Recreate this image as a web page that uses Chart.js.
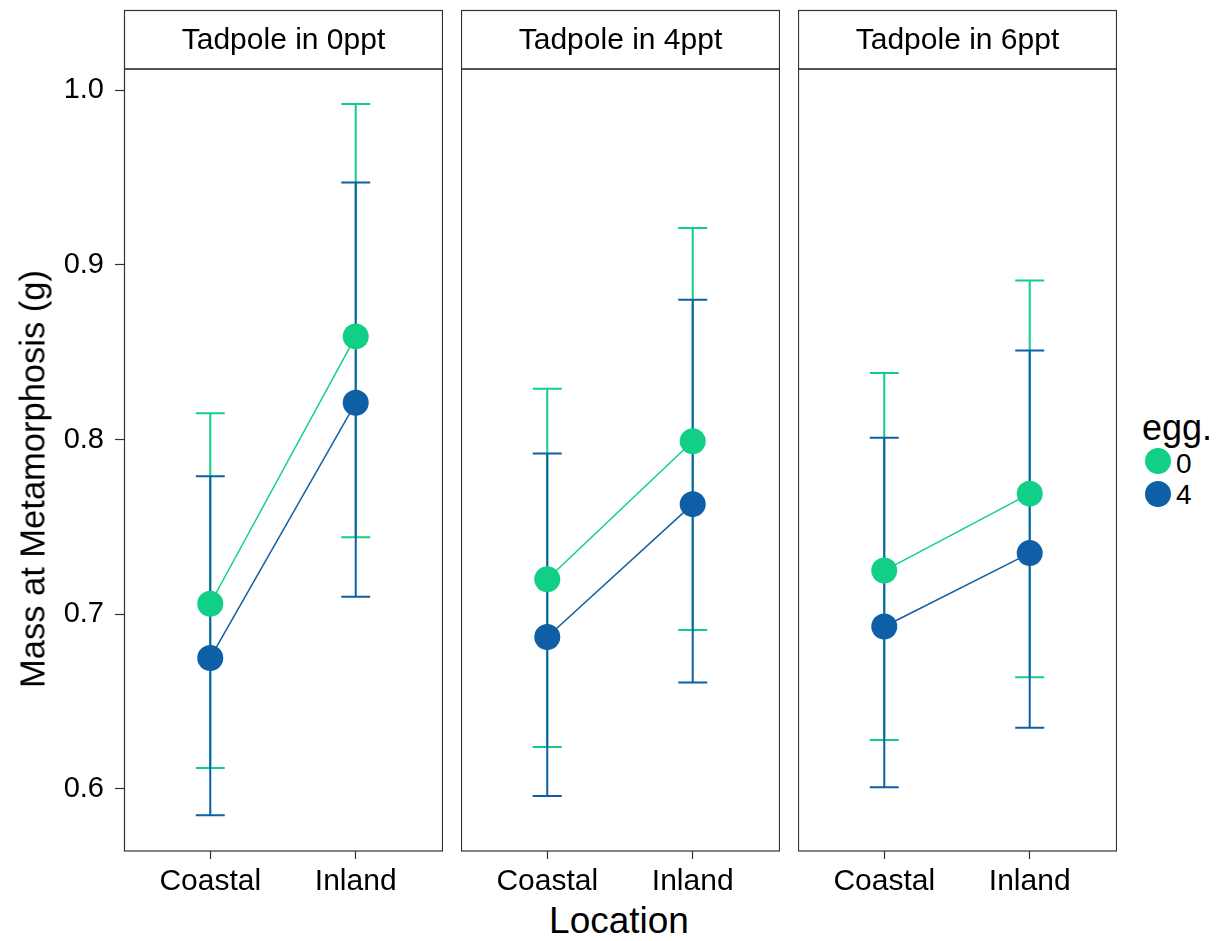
<!DOCTYPE html>
<html>
<head>
<meta charset="utf-8">
<script src="https://cdn.jsdelivr.net/npm/chart.js@4.4.1/dist/chart.umd.min.js"></script>
<style>
  body { margin: 0; background: #fff; font-family: "Liberation Sans", Arial, Helvetica, sans-serif; }
  #wrap { position: relative; width: 1220px; height: 941px; overflow: hidden; }
  canvas { position: absolute; top: 0; }
  .title { position: absolute; color: #000; white-space: nowrap; }
  .dot { position: absolute; width: 26px; height: 26px; border-radius: 50%; }
</style>
</head>
<body>
<div id="wrap">
  <canvas id="p0" width="443" height="900" style="left:0px"></canvas>
  <canvas id="p1" width="319" height="900" style="left:461px"></canvas>
  <canvas id="p2" width="319" height="900" style="left:798px"></canvas>

  <div class="title" id="ytitle" style="font-size:34.5px; left:33px; top:479px; transform: translate(-50%,-50%) rotate(-90deg);">Mass at Metamorphosis (g)</div>
  <div class="title" style="font-size:37px; left:619px; top:921px; transform: translate(-50%,-50%);">Location</div>

  <div class="title" style="font-size:36px; left:1142px; top:407px;">egg.</div>
  <div class="dot" style="left:1145px; top:448px; background:#12cf88;"></div>
  <div class="title" style="font-size:28px; left:1176px; top:448px;">0</div>
  <div class="dot" style="left:1145px; top:481px; background:#0f5fa6;"></div>
  <div class="title" style="font-size:28px; left:1176px; top:479px;">4</div>
</div>
<script>
const categories = ['Coastal', 'Inland'];
const panels = ['Tadpole in 0ppt', 'Tadpole in 4ppt', 'Tadpole in 6ppt'];
const yTicks = [0.6, 0.7, 0.8, 0.9, 1.0];

// egg. = 0
const egg0Mean  = [[0.706, 0.859], [0.720, 0.799], [0.725, 0.769]];
const egg0Upper = [[0.815, 0.992], [0.829, 0.921], [0.838, 0.891]];
const egg0Lower = [[0.612, 0.744], [0.624, 0.691], [0.628, 0.664]];
// egg. = 4
const egg4Mean  = [[0.675, 0.821], [0.687, 0.763], [0.693, 0.735]];
const egg4Upper = [[0.779, 0.947], [0.792, 0.880], [0.801, 0.851]];
const egg4Lower = [[0.585, 0.710], [0.596, 0.661], [0.601, 0.635]];

const green = '#12cf88';
const blue = '#0f5fa6';
const frame = '#333333';
const font = '"Liberation Sans", Arial, Helvetica, sans-serif';

// error bars + panel frame + strip header
const facetPlugin = {
  id: 'facet',
  beforeDatasetsDraw(chart) {
    const { ctx, scales } = chart;
    const p = chart.options.panelIndex;
    const groups = [
      { color: green, lo: egg0Lower[p], hi: egg0Upper[p] },
      { color: blue, lo: egg4Lower[p], hi: egg4Upper[p] }
    ];
    ctx.save();
    ctx.lineWidth = 2;
    groups.forEach(g => {
      ctx.strokeStyle = g.color;
      categories.forEach((c, j) => {
        const x = scales.x.getPixelForValue(j);
        const y1 = scales.y.getPixelForValue(g.hi[j]);
        const y2 = scales.y.getPixelForValue(g.lo[j]);
        ctx.beginPath();
        ctx.moveTo(x, y1); ctx.lineTo(x, y2);
        ctx.moveTo(x - 14.5, y1); ctx.lineTo(x + 14.5, y1);
        ctx.moveTo(x - 14.5, y2); ctx.lineTo(x + 14.5, y2);
        ctx.stroke();
      });
    });
    ctx.restore();
  },
  afterDraw(chart) {
    const { ctx, chartArea } = chart;
    const p = chart.options.panelIndex;
    ctx.save();
    ctx.strokeStyle = frame;
    ctx.lineWidth = 1.2;
    const l = chartArea.left + 0.5, r = chartArea.right - 0.5;
    ctx.strokeRect(l, chartArea.top, r - l, chartArea.bottom - chartArea.top);
    ctx.strokeRect(l, 10.5, r - l, chartArea.top - 10.5);
    ctx.fillStyle = '#000';
    ctx.font = '30px ' + font;
    ctx.textAlign = 'center';
    ctx.textBaseline = 'middle';
    ctx.fillText(panels[p], (l + r) / 2, 41);
    ctx.restore();
  }
};

function makePanel(p) {
  const showY = p === 0;
  new Chart(document.getElementById('p' + p), {
    type: 'line',
    data: {
      datasets: [
        {
          label: '0',
          data: categories.map((c, j) => ({ x: j, y: egg0Mean[p][j] })),
          borderColor: green, backgroundColor: green,
          borderWidth: 1.5, pointRadius: 13, pointBorderWidth: 0
        },
        {
          label: '4',
          data: categories.map((c, j) => ({ x: j, y: egg4Mean[p][j] })),
          borderColor: blue, backgroundColor: blue,
          borderWidth: 1.5, pointRadius: 13, pointBorderWidth: 0
        }
      ]
    },
    options: {
      panelIndex: p,
      responsive: false,
      animation: false,
      devicePixelRatio: 1,
      layout: { autoPadding: false, padding: { top: 69, left: 0, right: 0, bottom: 0 } },
      plugins: { legend: { display: false }, tooltip: { enabled: false } },
      scales: {
        x: {
          type: 'linear',
          min: -0.593, max: 1.6,
          afterBuildTicks: s => { s.ticks = categories.map((c, j) => ({ value: j })); },
          afterFit: s => { s.height = 49; },
          grid: { drawOnChartArea: false, drawTicks: true, tickLength: 8, tickColor: frame, tickWidth: 1.2 },
          border: { display: false },
          ticks: {
            color: '#000', padding: 5, maxRotation: 0, autoSkip: false,
            font: { family: font, size: 30 },
            callback: v => categories[v]
          }
        },
        y: {
          display: showY,
          min: 0.56452, max: 1.01202,
          afterBuildTicks: s => { s.ticks = yTicks.map(v => ({ value: v })); },
          afterFit: s => { if (showY) s.width = 124; },
          grid: { drawOnChartArea: false, drawTicks: true, tickLength: 9, tickColor: frame, tickWidth: 1.2 },
          border: { display: false },
          ticks: {
            color: '#000', padding: 11,
            font: { family: font, size: 29 },
            callback: v => v.toFixed(1)
          }
        }
      }
    },
    plugins: [facetPlugin]
  });
}

panels.forEach((t, p) => makePanel(p));
</script>
</body>
</html>
